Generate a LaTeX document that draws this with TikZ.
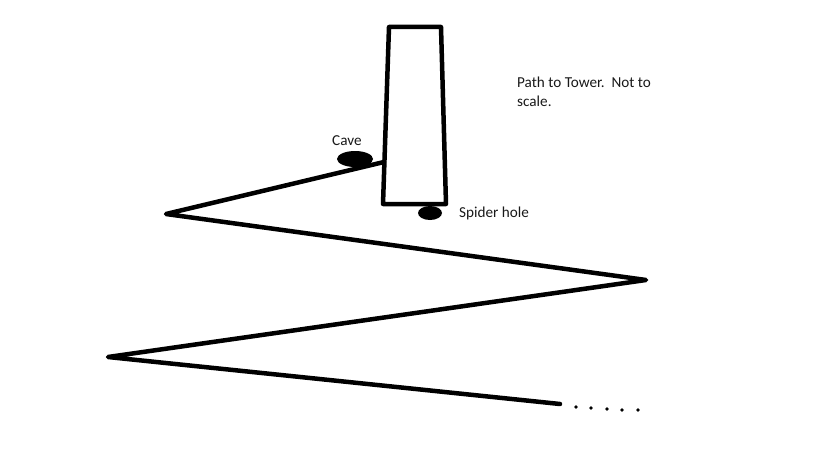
\documentclass[tikz,border=0pt]{standalone}
\usepackage{fontspec}
\setmainfont{Carlito}
\begin{document}
\begin{tikzpicture}[x=1pt,y=-1pt,
  stroke/.style={line width=4.5pt,line join=round,line cap=round},
  lbl/.style={inner sep=0pt,font=\fontsize{15.2}{19.5}\selectfont,text=black!90},
  blob/.style={fill=black,draw=none},
  dotp/.style={fill=black,draw=none,circle,minimum size=3.6pt,inner sep=0pt}]
\useasboundingbox (0,0) rectangle (819,460);
% tower
\coordinate (tl) at (389,27);
\coordinate (tr) at (441,27);
\coordinate (br) at (446,204);
\coordinate (bl) at (383,204);
\draw[stroke] (bl) -- (tl) -- (tr) -- (br) -- cycle;
% path
\coordinate (p0) at (384,162);
\coordinate (p1) at (166,214);
\coordinate (p2) at (646,280);
\coordinate (p3) at (108,357);
\coordinate (p4) at (560,404);
\draw[stroke] (p0) -- (p1) -- (p2) -- (p3) -- (p4);
% cave and spider hole
\fill[blob] (355,159) ellipse [x radius=18, y radius=8];
\fill[blob] (430,213) ellipse [x radius=12, y radius=7];
% dots
\node[dotp] (d1) at (576,407) {};
\node[dotp] (d2) at (591,408) {};
\node[dotp] (d3) at (607,409) {};
\node[dotp] (d4) at (622,410) {};
\node[dotp] (d5) at (638,410) {};
% labels
\node[lbl,anchor=west] (cave) at (332,141) {Cave};
\node[lbl,anchor=west] (spider) at (459,213) {Spider hole};
\node[lbl,anchor=west,align=left] (title) at (517,92) {Path to Tower.\ \ Not to\\scale.};
\end{tikzpicture}
\end{document}
